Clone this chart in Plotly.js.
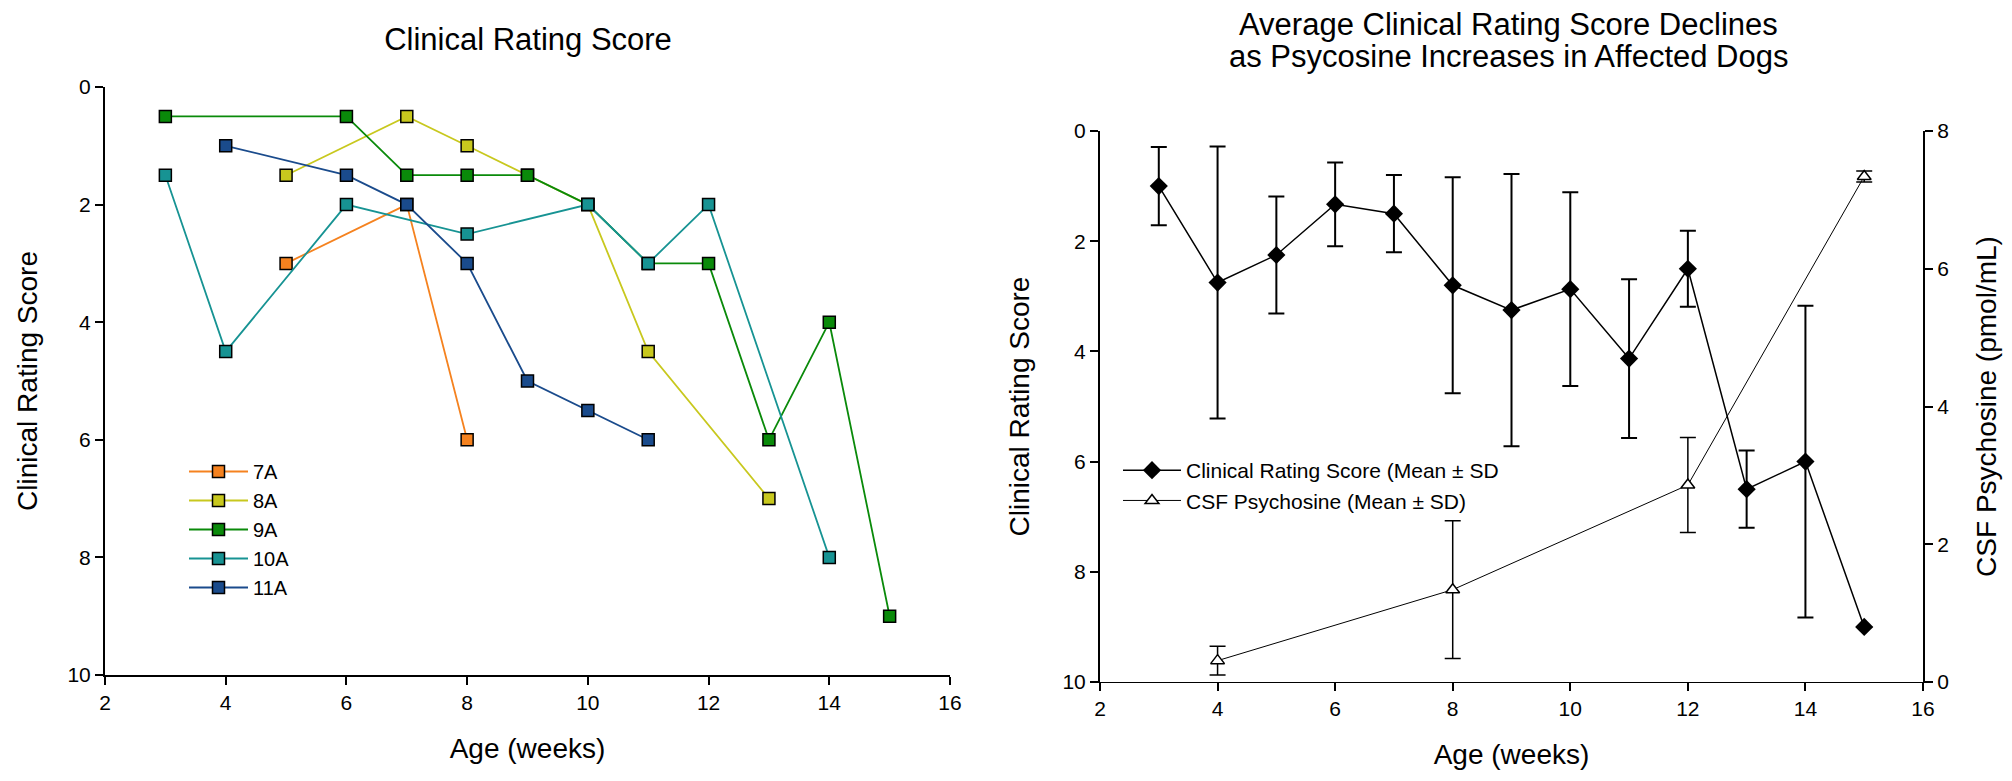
<!DOCTYPE html>
<html><head><meta charset="utf-8">
<script src="https://cdn.plot.ly/plotly-3.0.1.min.js"></script>
<style>html,body{margin:0;padding:0;background:#fff;} #chart{width:2012px;height:781px;}</style>
</head><body><div id="chart"></div>
<script>
// ---- Left chart: individual dogs ----
const age7A = [5, 7, 8];
const score7A = [3, 2, 6];
const age8A = [5, 7, 8, 9, 10, 11, 13];
const score8A = [1.5, 0.5, 1, 1.5, 2, 4.5, 7];
const age9A = [3, 6, 7, 8, 9, 10, 11, 12, 13, 14, 15];
const score9A = [0.5, 0.5, 1.5, 1.5, 1.5, 2, 3, 3, 6, 4, 9];
const age10A = [3, 4, 6, 8, 10, 11, 12, 14];
const score10A = [1.5, 4.5, 2, 2.5, 2, 3, 2, 8];
const age11A = [4, 6, 7, 8, 9, 10, 11];
const score11A = [1, 1.5, 2, 3, 5, 5.5, 6];
const dogNames = ['7A', '8A', '9A', '10A', '11A'];

// ---- Right chart: means ----
const ageCRS = [3, 4, 5, 6, 7, 8, 9, 10, 11, 12, 13, 14, 15];
const crsMean = [1, 2.75, 2.25, 1.33, 1.5, 2.8, 3.25, 2.87, 4.13, 2.5, 6.5, 6, 9];
const crsSD = [0.71, 2.47, 1.06, 0.76, 0.7, 1.96, 2.47, 1.76, 1.44, 0.69, 0.7, 2.83, null];
const ageCSF = [4, 8, 12, 15];
const csfMean = [0.31, 1.34, 2.86, 7.34];
const csfSD = [0.21, 1.0, 0.69, 0.08];

const xTicks = [2, 4, 6, 8, 10, 12, 14, 16];
const yTicks = [0, 2, 4, 6, 8, 10];
const y2Ticks = [0, 2, 4, 6, 8];

const W = 2012, H = 781;
const px = x => x / W;
const py = y => 1 - y / H;
const FONT = "Arial, 'Liberation Sans', sans-serif";

const dogColors = ['#F5821F', '#C8C81E', '#0A8A0A', '#179393', '#1A4B8C'];
const dogAges = [age7A, age8A, age9A, age10A, age11A];
const dogScores = [score7A, score8A, score9A, score10A, score11A];

const traces = dogNames.map((n, i) => ({
  type: 'scatter', mode: 'lines+markers', name: n,
  x: dogAges[i], y: dogScores[i], xaxis: 'x', yaxis: 'y',
  line: {color: dogColors[i], width: 1.8},
  marker: {symbol: 'square', size: 12, color: dogColors[i], line: {color: '#000', width: 1.5}},
  legend: 'legend'
}));

traces.push({
  type: 'scatter', mode: 'lines+markers', name: 'Clinical Rating Score (Mean \u00b1 SD',
  x: ageCRS, y: crsMean, xaxis: 'x2', yaxis: 'y2',
  line: {color: '#000', width: 1.5},
  marker: {symbol: 'diamond', size: 14, color: '#000'},
  error_y: {type: 'data', array: crsSD, visible: true, color: '#000', thickness: 2, width: 8},
  legend: 'legend2'
});
traces.push({
  type: 'scatter', mode: 'lines+markers', name: 'CSF Psychosine (Mean \u00b1 SD)',
  x: ageCSF, y: csfMean, xaxis: 'x2', yaxis: 'y3',
  line: {color: '#000', width: 1},
  marker: {symbol: 'triangle-up', size: 12, color: '#fff', line: {color: '#000', width: 1.5}},
  error_y: {type: 'data', array: csfSD, visible: true, color: '#000', thickness: 1.5, width: 8},
  legend: 'legend2'
});

const axBase = {
  showline: true, linecolor: '#000', linewidth: 2, showgrid: false, zeroline: false,
  ticks: 'outside', ticklen: 8, tickwidth: 2, tickcolor: '#000',
  tickfont: {family: FONT, size: 21, color: '#000'}
};

const layout = {
  width: W, height: H,
  margin: {l: 0, r: 0, t: 0, b: 0},
  paper_bgcolor: '#fff', plot_bgcolor: 'rgba(0,0,0,0)',
  font: {family: FONT, color: '#000'},
  title: {text: 'Clinical Rating Score', x: px(528), xanchor: 'center', xref: 'paper',
          y: py(39), yanchor: 'middle', yref: 'paper', font: {family: FONT, size: 31, color: '#000'}},
  xaxis: Object.assign({}, axBase, {domain: [px(105), px(950)], anchor: 'y', range: [2, 16], tickvals: xTicks,
          title: {text: 'Age (weeks)', font: {family: FONT, size: 28}, standoff: 25}}),
  yaxis: Object.assign({}, axBase, {domain: [py(675), py(87)], anchor: 'x', range: [10, 0], tickvals: yTicks,
          title: {text: 'Clinical Rating Score', font: {family: FONT, size: 28}, standoff: 22}}),
  xaxis2: Object.assign({}, axBase, {domain: [px(1100), px(1923)], anchor: 'y2', range: [2, 16], tickvals: xTicks,
          linewidth: 1.2,
          title: {text: 'Age (weeks)', font: {family: FONT, size: 28}, standoff: 25}}),
  yaxis2: Object.assign({}, axBase, {domain: [py(682), py(131)], anchor: 'x2', range: [10, 0], tickvals: yTicks,
          title: {text: 'Clinical Rating Score', font: {family: FONT, size: 28}, standoff: 25}}),
  yaxis3: Object.assign({}, axBase, {domain: [py(682), py(131)], anchor: 'x2', overlaying: 'y2', side: 'right',
          range: [0, 8], tickvals: y2Ticks,
          title: {text: 'CSF Psychosine (pmol/mL)', font: {family: FONT, size: 28}, standoff: 28}}),
  legend: {x: px(184), y: py(452), xanchor: 'left', yanchor: 'top', bgcolor: 'rgba(0,0,0,0)',
           font: {family: FONT, size: 20, color: '#000'}, itemwidth: 59, traceorder: 'normal'},
  legend2: {x: px(1118), y: py(450), xanchor: 'left', yanchor: 'top', bgcolor: 'rgba(0,0,0,0)',
           font: {family: FONT, size: 21, color: '#000'}, itemwidth: 58, traceorder: 'normal'},
  annotations: [
    {text: 'Average Clinical Rating Score Declines', xref: 'paper', yref: 'paper', x: px(1508), y: py(24),
     xanchor: 'center', yanchor: 'middle', showarrow: false, font: {family: FONT, size: 31, color: '#000'}},
    {text: 'as Psycosine Increases in Affected Dogs', xref: 'paper', yref: 'paper', x: px(1508), y: py(57),
     xanchor: 'center', yanchor: 'middle', showarrow: false, font: {family: FONT, size: 31, color: '#000'}}
  ],
  showlegend: true
};

Plotly.newPlot('chart', traces, layout, {displayModeBar: false, staticPlot: true});
</script></body></html>
